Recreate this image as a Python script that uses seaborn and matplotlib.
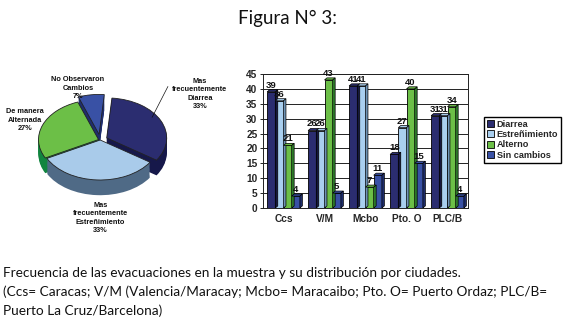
import numpy as np
import pandas as pd
import matplotlib
matplotlib.use("Agg")
import matplotlib.pyplot as plt
from matplotlib.patches import Polygon
import seaborn as sns

# pie data
pie_labels = ["Mas\nfrecuentemente\nDiarrea\n33%",
              "Mas\nfrecuentemente\nEstreñimiento\n33%",
              "De manera\nAlternada\n27%",
              "No Observaron\nCambios\n7%"]
pie_vals = [33, 33, 27, 7]
pie_top = ["#2B2D70", "#A9CBEA", "#6CBF47", "#3951A5"]
pie_side = ["#16184A", "#4F6A86", "#11853F", "#1F2E6E"]

# bar data
ciudades = ["Ccs", "V/M", "Mcbo", "Pto. O", "PLC/B"]
tipos = ["Diarrea", "Estreñimiento", "Alterno", "Sin cambios"]
diarrea = [39, 26, 41, 18, 31]
estrenimiento = [36, 26, 41, 27, 31]
alterno = [21, 43, 7, 40, 34]
sin_cambios = [4, 5, 11, 15, 4]
bar_cols = ["#2B2D70", "#A9CFEF", "#6CBF47", "#3951A5"]
bar_side = ["#15173F", "#6E93B5", "#2E7D2A", "#1E2D6A"]

sns.set_theme(style="white")
plt.rcParams["font.family"] = ["Liberation Sans", "DejaVu Sans"]

fig = plt.figure(figsize=(5.71, 3.21), dpi=100)

# ---------------- pie ----------------
axp = fig.add_axes([0, 1 - 240 / 321, 240 / 571, 180 / 321])
explode = [0.12, 0.0, 0.03, 0.14]
depth = 0.38
for k in np.linspace(-depth, 0, 14):
    cols = pie_side if k < 0 else pie_top
    axp.pie(pie_vals, colors=cols, startangle=85, counterclock=False,
            explode=explode, center=(0, k), radius=1.0,
            wedgeprops=dict(linewidth=0.6 if k == 0 else 0, edgecolor="#222222"))
axp.set_xlim(-1.67, 2.33)
axp.set_ylim(-2.5, 2.0)
axp.set_aspect("auto")
axp.axis("off")

lab_kw = dict(fontsize=5.3, fontweight="bold", ha="center", va="center",
              linespacing=1.3, color="#111111")
axp.text(1.66, 1.15, pie_labels[0], **lab_kw)
axp.text(0.0, -1.95, pie_labels[1], **lab_kw)
axp.text(-1.25, 0.5, pie_labels[2], **lab_kw)
axp.text(-0.37, 1.3, pie_labels[3], **lab_kw)
ang = np.deg2rad(85 - 360 * pie_vals[0] / 100 / 2)
axp.annotate("", xy=(1.1 * np.cos(ang) * 0.85, 1.1 * np.sin(ang) * 0.85 + 0.1),
             xytext=(1.15, 1.4),
             arrowprops=dict(arrowstyle="-", color="#111111", lw=0.5))

# ---------------- bars ----------------
axb = fig.add_axes([263 / 571, 1 - 208 / 321, 205 / 571, 134 / 321])
df = pd.DataFrame({
    "ciudad": np.repeat(ciudades, 4),
    "tipo": tipos * len(ciudades),
    "valor": np.ravel(np.column_stack([diarrea, estrenimiento, alterno, sin_cambios])),
})
sns.barplot(data=df, x="ciudad", y="valor", hue="tipo", hue_order=tipos,
            palette=bar_cols, edgecolor="black", linewidth=0.6, width=0.8,
            saturation=1, ax=axb, zorder=3)

dx, dy = 0.06, 0.7
for cont, side in zip(axb.containers, bar_side):
    for p in cont.patches:
        x, w, h = p.get_x(), p.get_width(), p.get_height()
        top = Polygon([(x, h), (x + dx, h + dy), (x + w + dx, h + dy), (x + w, h)],
                      closed=True, facecolor=p.get_facecolor(), edgecolor="black",
                      linewidth=0.5, zorder=3)
        sd = Polygon([(x + w, 0), (x + w + dx, dy), (x + w + dx, h + dy), (x + w, h)],
                     closed=True, facecolor=side, edgecolor="black",
                     linewidth=0.5, zorder=3)
        axb.add_patch(top)
        axb.add_patch(sd)
    axb.bar_label(cont, padding=1.5, fontsize=6.8, fontweight="bold", color="#111111")

axb.set_ylim(0, 45)
axb.set_xlim(-0.5, 4.5)
axb.set_yticks(range(0, 46, 5))
axb.yaxis.grid(True, color="#222222", linewidth=0.7, zorder=0)
axb.set_axisbelow(True)
axb.set_xlabel("")
axb.set_ylabel("")
axb.tick_params(axis="both", labelsize=7.3, length=2, width=0.6, pad=2, color="black")
axb.tick_params(axis="y", left=True)
for t in axb.get_xticklabels() + axb.get_yticklabels():
    t.set_fontweight("bold")
for s in axb.spines.values():
    s.set_color("#222222")
    s.set_linewidth(0.7)

leg_handles, leg_labels = axb.get_legend_handles_labels()
if axb.get_legend() is not None:
    axb.get_legend().remove()
fig.legend(leg_handles, leg_labels, loc="upper left",
           bbox_to_anchor=(484 / 571, 1 - 117 / 321),
           prop=dict(size=6.6, weight="bold"), frameon=True, fancybox=False,
           edgecolor="black", framealpha=1, borderpad=0.3, labelspacing=0.15,
           handlelength=0.8, handleheight=0.8, handletextpad=0.3,
           borderaxespad=0)

# ---------------- texts ----------------
fig.text(287 / 571, 1 - 18 / 321, "Figura N° 3:", fontsize=13.5, ha="center",
         va="center", color="#111111", family=["Lato", "DejaVu Sans"])
cap = ["Frecuencia de las evacuaciones en la muestra y su distribución por ciudades.",
       "(Ccs= Caracas; V/M (Valencia/Maracay; Mcbo= Maracaibo; Pto. O= Puerto Ordaz; PLC/B=",
       "Puerto La Cruz/Barcelona)"]
for i, line in enumerate(cap):
    fig.text(3 / 571, 1 - (273 + 19 * i) / 321, line, fontsize=9.8, ha="left",
             va="center", color="#111111", family=["Lato", "DejaVu Sans"])

fig.savefig("out.png", dpi=100)
